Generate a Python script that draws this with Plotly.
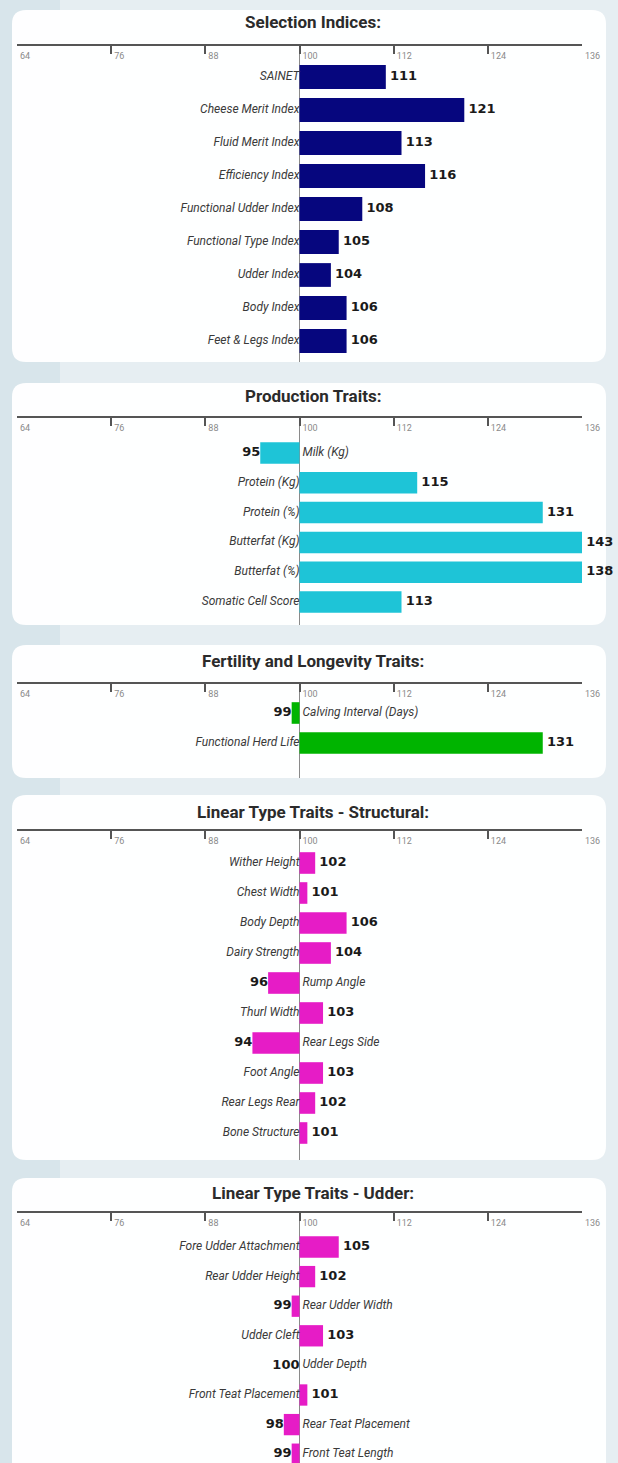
import plotly.graph_objects as go

# ---------------- data ----------------
tick_vals = [64, 76, 88, 100, 112, 124, 136]
BASE = 100
AXIS_MIN, AXIS_MAX = 64, 136

sel_title = "Selection Indices:"
sel_cats = ["SAINET", "Cheese Merit Index", "Fluid Merit Index", "Efficiency Index",
            "Functional Udder Index", "Functional Type Index", "Udder Index",
            "Body Index", "Feet & Legs Index"]
sel_vals = [111, 121, 113, 116, 108, 105, 104, 106, 106]

prod_title = "Production Traits:"
prod_cats = ["Milk (Kg)", "Protein (Kg)", "Protein (%)", "Butterfat (Kg)",
             "Butterfat (%)", "Somatic Cell Score"]
prod_vals = [95, 115, 131, 143, 138, 113]

fert_title = "Fertility and Longevity Traits:"
fert_cats = ["Calving Interval (Days)", "Functional Herd Life"]
fert_vals = [99, 131]

struct_title = "Linear Type Traits - Structural:"
struct_cats = ["Wither Height", "Chest Width", "Body Depth", "Dairy Strength",
               "Rump Angle", "Thurl Width", "Rear Legs Side", "Foot Angle",
               "Rear Legs Rear", "Bone Structure"]
struct_vals = [102, 101, 106, 104, 96, 103, 94, 103, 102, 101]

udder_title = "Linear Type Traits - Udder:"
udder_cats = ["Fore Udder Attachment", "Rear Udder Height", "Rear Udder Width",
              "Udder Cleft", "Udder Depth", "Front Teat Placement",
              "Rear Teat Placement", "Front Teat Length"]
udder_vals = [105, 102, 99, 103, 100, 101, 98, 99]

# ---------------- layout geometry (pixels) ----------------
W, H = 618, 1463
X_LEFT, X_RIGHT = 17, 582
CARD_L, CARD_R = 12, 606

# (title, cats, vals, color, card_top, title_y, axis_y, first_row_y, row_step, card_bottom)
panels = [
    (sel_title, sel_cats, sel_vals, "#06067e", 10, 22, 46, 77, 33.0, 362),
    (prod_title, prod_cats, prod_vals, "#1ec4d7", 383, 396, 418, 453, 29.8, 625),
    (fert_title, fert_cats, fert_vals, "#00b400", 645, 661, 684, 713, 30.0, 778),
    (struct_title, struct_cats, struct_vals, "#e61cc6", 795, 812, 831, 863, 30.0, 1160),
    (udder_title, udder_cats, udder_vals, "#e61cc6", 1178, 1193, 1213, 1247, 29.6, 1463),
]


def px(x):
    return x / W


def py(y):
    return 1 - y / H


def rounded_path(x0, y0, x1, y1, r):
    rx, ry = r / W, r / H
    X0, X1 = px(x0), px(x1)
    Y0, Y1 = py(y0), py(y1)
    return (f"M {X0+rx},{Y0} L {X1-rx},{Y0} Q {X1},{Y0} {X1},{Y0-ry} "
            f"L {X1},{Y1+ry} Q {X1},{Y1} {X1-rx},{Y1} L {X0+rx},{Y1} "
            f"Q {X0},{Y1} {X0},{Y1+ry} L {X0},{Y0-ry} Q {X0},{Y0} {X0+rx},{Y0} Z")


fig = go.Figure()
shapes = []
annotations = []
layout_axes = {}

NB = "\u00a0"
cat_font = dict(family="Roboto, Liberation Sans, sans-serif", size=12, color="#3a3a3a")
val_font = dict(family="DejaVu Sans, Verdana, sans-serif", size=13, color="#1a1a1a")

# soft background band on the left
shapes.append(dict(type="rect", xref="paper", yref="paper", x0=0, x1=px(60), y0=0, y1=1,
                   fillcolor="rgba(190,212,224,0.35)", line=dict(width=0), layer="below"))

for i, (title, cats, vals, color, ctop, ty, ay, y0, step, cbot) in enumerate(panels, start=1):
    xa = "x" if i == 1 else f"x{i}"
    ya = "y" if i == 1 else f"y{i}"
    xkey = "xaxis" if i == 1 else f"xaxis{i}"
    ykey = "yaxis" if i == 1 else f"yaxis{i}"

    shapes.append(dict(type="path", xref="paper", yref="paper",
                       path=rounded_path(CARD_L, ctop, CARD_R, cbot if cbot < H else H + 20, 14),
                       fillcolor="rgba(255,255,255,0.96)", line=dict(width=0), layer="below"))

    fig.add_trace(go.Bar(
        y=cats, x=[v - BASE for v in vals], base=BASE, orientation="h",
        marker=dict(color=color, line=dict(width=0)), width=0.72,
        xaxis=xa, yaxis=ya, showlegend=False, hoverinfo="skip"))

    pos_cats = [c for c, v in zip(cats, vals) if v > BASE]
    pos_vals = [v for v in vals if v > BASE]
    neg_cats = [c for c, v in zip(cats, vals) if v <= BASE]
    neg_vals = [v for v in vals if v <= BASE]

    if pos_cats:
        fig.add_trace(go.Scatter(
            y=pos_cats, x=[BASE] * len(pos_cats), mode="text",
            text=[f"<i>{c}</i>" for c in pos_cats], textposition="middle left",
            textfont=cat_font, xaxis=xa, yaxis=ya, showlegend=False,
            hoverinfo="skip", cliponaxis=False))
        fig.add_trace(go.Scatter(
            y=pos_cats, x=[min(v, AXIS_MAX) for v in pos_vals], mode="text",
            text=[f"{NB}<b>{v}</b>" for v in pos_vals], textposition="middle right",
            textfont=val_font, xaxis=xa, yaxis=ya, showlegend=False,
            hoverinfo="skip", cliponaxis=False))
    if neg_cats:
        fig.add_trace(go.Scatter(
            y=neg_cats, x=[BASE] * len(neg_cats), mode="text",
            text=[f"{NB}<i>{c}</i>" for c in neg_cats], textposition="middle right",
            textfont=cat_font, xaxis=xa, yaxis=ya, showlegend=False,
            hoverinfo="skip", cliponaxis=False))
        fig.add_trace(go.Scatter(
            y=neg_cats, x=neg_vals, mode="text",
            text=[f"<b>{v}</b>" for v in neg_vals], textposition="middle left",
            textfont=val_font, xaxis=xa, yaxis=ya, showlegend=False,
            hoverinfo="skip", cliponaxis=False))

    shapes.append(dict(type="line", xref=xa, yref=f"{ya} domain", x0=BASE, x1=BASE,
                       y0=0, y1=1, line=dict(color="#8a8a8a", width=1), layer="below"))

    bot = min(cbot, H)
    layout_axes[xkey] = dict(
        domain=[px(X_LEFT), px(X_RIGHT)], range=[AXIS_MIN, AXIS_MAX], anchor=ya,
        side="top", showline=True, linecolor="#555555", linewidth=2,
        ticks="inside", ticklen=8, tickwidth=2, tickcolor="#555555",
        tickvals=tick_vals, ticktext=[str(t) for t in tick_vals],
        ticklabelposition="outside right", ticklabelstandoff=-19, ticklabelshift=1,
        tickfont=dict(family="Roboto, sans-serif", size=9, color="#8a8a8a"),
        showgrid=False, zeroline=False, fixedrange=True, automargin=False)
    layout_axes[ykey] = dict(
        domain=[py(bot), py(ay)], anchor=xa, type="category",
        categoryorder="array", categoryarray=cats,
        range=[(bot - y0) / step, (ay - y0) / step],
        showticklabels=False, showline=False, showgrid=False, zeroline=False,
        ticks="", fixedrange=True, automargin=False)

    annotations.append(dict(
        text=f"<b>{title}</b>", xref="paper", yref="paper", x=px(313), y=py(ty),
        xanchor="center", yanchor="middle", showarrow=False,
        font=dict(family="Roboto, sans-serif", size=17, color="#2b2b2b")))

fig.update_layout(
    width=W, height=H, margin=dict(l=0, r=0, t=0, b=0, autoexpand=False), autosize=False,
    paper_bgcolor="#e6eef2", plot_bgcolor="rgba(0,0,0,0)",
    shapes=shapes, annotations=annotations,
    **layout_axes)

fig.write_html("out.html",
               config={"responsive": False, "displayModeBar": False},
               post_script="document.body.style.margin='0px';")
